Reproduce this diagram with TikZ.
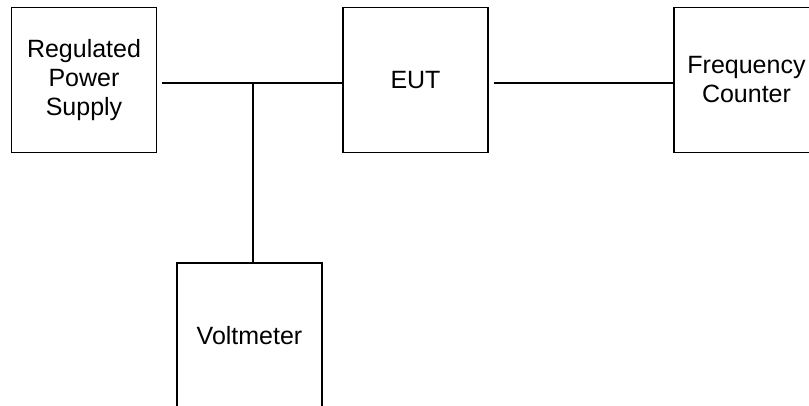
\documentclass[tikz,border=0pt]{standalone}
\usepackage{fontspec}
\setmainfont{Liberation Sans}
\usetikzlibrary{calc}

\tikzset{
	unitbox/.style={draw,line width=1.2pt,minimum width=145pt,minimum height=145pt,inner sep=0pt,align=center,font=\fontsize{25}{29}\selectfont},
	wire/.style={line width=1.6pt}
}

\begin{document}
\begin{tikzpicture}[x=1pt,y=-1pt]
		% Page frame
		\useasboundingbox (0,0) rectangle (809,405);

		% Blocks
		\node[unitbox] (supply) at (84,80) {Regulated\\Power\\Supply};
		\node[unitbox] (eut) at (415.5,80) {EUT};
		\node[unitbox] (counter) at (746.5,80) {Frequency\\Counter};
		\node[unitbox] (volt) at (249.5,335.5) {Voltmeter};

		% Wiring
		\coordinate (junc) at (253,83);
		\draw[wire,shorten <=5pt] ([yshift=-3pt]supply.east) -- ([yshift=-3pt]eut.west);
		\draw[wire] (junc) -- (junc |- volt.north);
		\draw[wire,shorten <=5pt] ([yshift=-3pt]eut.east) -- ([yshift=-3pt]counter.west);
		\end{tikzpicture}
\end{document}
